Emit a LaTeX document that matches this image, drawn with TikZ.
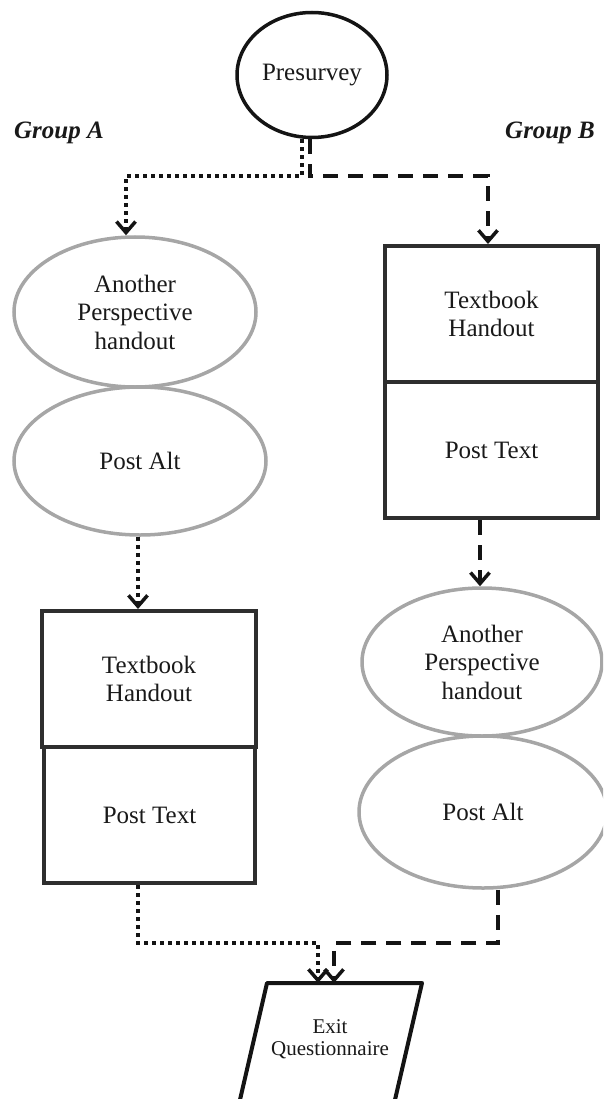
\documentclass[tikz,border=0pt]{standalone}
\usepackage{fontspec}
\setmainfont{Liberation Serif}
\usetikzlibrary{shapes.geometric,arrows.meta}
\begin{document}
\begin{tikzpicture}[x=1pt,y=-1pt,
  txt/.style={font=\fontsize{25}{28.5}\selectfont, text=black!90, align=center},
  circ/.style={ellipse, draw=black!92, line width=3.5pt, txt, inner sep=0pt},
  gell/.style={ellipse, draw=black!35, line width=3.5pt, txt, inner sep=0pt},
  box/.style={rectangle, draw=black!82, line width=4pt, txt, inner sep=0pt},
  grp/.style={font=\bfseries\itshape\fontsize{25}{28}\selectfont, text=black!90},
  dotl/.style={line width=3.8pt, dash pattern=on 4pt off 4pt, draw=black!92},
  dashl/.style={line width=3.8pt, dash pattern=on 15pt off 10pt, draw=black!92},
  tip/.style={-{Straight Barb[length=11pt,width=19pt,line width=3.5pt]}}
]
\useasboundingbox (0,0) rectangle (603,1099);
\clip (0,0) rectangle (603,1099);

% nodes
\node[circ, minimum width=150pt, minimum height=125pt] (pre) at (312,75) {Presurvey};
\node[grp] (ga) at (59,133) {Group A};
\node[grp] (gb) at (550,133) {Group B};

\node[gell, minimum width=242pt, minimum height=150pt] (a1) at (135,312) {Another\\Perspective\\handout};
\node[gell, minimum width=252pt, minimum height=148pt] (a2) at (140,461) {Post Alt};
\node[box, minimum width=214pt, minimum height=136pt] (a3) at (149,679) {Textbook\\Handout};
\node[box, minimum width=211pt, minimum height=136pt] (a4) at (149.5,815) {Post Text};

\node[box, minimum width=213pt, minimum height=136pt] (b1) at (491.5,314) {Textbook\\Handout};
\node[box, minimum width=213pt, minimum height=136pt] (b2) at (491.5,450) {Post Text};
\node[gell, minimum width=240pt, minimum height=148pt] (b3) at (482,662) {Another\\Perspective\\handout};
\node[gell, minimum width=248pt, minimum height=152pt] (b4) at (483,812) {Post Alt};

% exit parallelogram
\coordinate (e1) at (267,983);
\coordinate (e2) at (422,983);
\coordinate (e3) at (388,1130);
\coordinate (e4) at (233,1130);
\draw[line width=4pt, draw=black!92, line join=round] (e1) -- (e2) -- (e3) -- (e4) -- cycle;
\node[font=\fontsize{21}{22.5}\selectfont, text=black!90, align=center] (exit) at (330,1039) {Exit\\Questionnaire};

% connectors from presurvey
\coordinate (pdx) at (302,176);
\coordinate (pdx2) at (310,176);
\coordinate (ca) at (126,176);
\coordinate (cb) at (488,176);
\draw[dotl,tip] (pre.south -| pdx) -- (pdx) -- (ca) -- (a1.north -| ca);
\draw[dashl,tip] (pre.south -| pdx2) -- (pdx2) -- (cb) -- (b1.north -| cb);

% middle connectors
\coordinate (ax) at (138,570);
\coordinate (bx) at (480,550);
\draw[dotl,tip] (a2.south -| ax) -- (a3.north -| ax);
\draw[dashl,tip] (b2.south -| bx) -- (b3.north -| bx);

% bottom connectors
\coordinate (m1) at (138,943);
\coordinate (m2) at (318,943);
\coordinate (m3) at (498,943);
\coordinate (m4) at (334,943);
\draw[dotl,tip] (a4.south -| m1) -- (m1) -- (m2) -- (m2 |- e1);
\draw[dashl,tip] (b4.south -| m3) -- (m3) -- (m4) -- (m4 |- e1);
\end{tikzpicture}
\end{document}
